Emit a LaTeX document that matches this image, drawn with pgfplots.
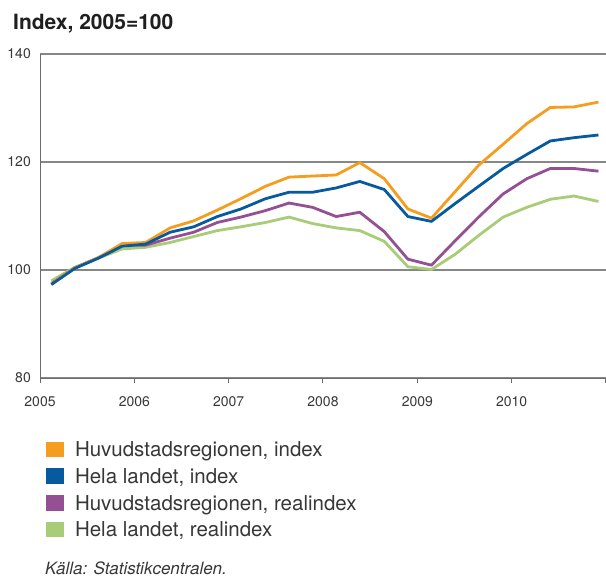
\documentclass[border=0pt]{standalone}
\usepackage{pgfplots}
\pgfplotsset{compat=1.18}
\usepackage{pgfplotstable}
\usepackage{fontspec}
\setmainfont{TeX Gyre Heros}
\definecolor{corange}{RGB}{245,157,31}
\definecolor{cblue}{RGB}{8,90,158}
\definecolor{cpurple}{RGB}{149,80,148}
\definecolor{cgreen}{RGB}{168,204,120}
\definecolor{ctext}{RGB}{55,55,55}
\definecolor{cgrid}{RGB}{135,135,135}
\pgfplotstableread{
x        o      b      p      g
2005.12  97.4   97.3   97.5   98.0
2005.37  100.4  100.3  100.4  100.5
2005.62  102.3  102.2  102.3  102.2
2005.87  104.9  104.4  104.6  103.9
2006.12  105.1  104.8  104.6  104.2
2006.38  107.8  107.0  105.9  105.1
2006.63  109.1  108.0  107.0  106.2
2006.88  111.1  109.9  108.8  107.3
2007.13  113.2  111.3  109.8  108.0
2007.39  115.5  113.2  111.0  108.8
2007.64  117.2  114.4  112.4  109.8
2007.89  117.4  114.4  111.6  108.6
2008.14  117.6  115.2  109.9  107.8
2008.39  119.9  116.4  110.7  107.3
2008.65  116.9  114.9  107.1  105.3
2008.90  111.3  109.9  102.0  100.6
2009.15  109.6  109.0  100.9  100.1
2009.40  114.5  112.3  105.4  102.9
2009.65  119.4  115.5  109.8  106.4
2009.91  123.3  118.8  114.1  109.8
2010.16  127.1  121.4  116.9  111.6
2010.41  130.1  123.9  118.8  113.1
2010.66  130.2  124.5  118.8  113.7
2010.92  131.1  125.0  118.3  112.7
}\datatable
\begin{document}
\begin{tikzpicture}
\useasboundingbox (0,0) rectangle (606bp,-578bp);
\node[anchor=base west, inner sep=0pt, font=\fontsize{21bp}{25bp}\selectfont\bfseries, text=black!88] at (13bp,-29.3bp) {Index, 2005=100};
\begin{axis}[
  at={(40bp,-54bp)}, anchor=north west,
  scale only axis, width=566bp, height=324bp,
  xmin=2005, xmax=2011, ymin=80, ymax=140,
  axis x line*=bottom, axis y line*=left,
  axis line style={draw=cgrid!80!black, line width=1bp},
  xtick={2005,2006,...,2011},
  xticklabels={2005,2006,2007,2008,2009,2010,{}},
  ytick={80,100,120,140},
  ymajorgrids, grid style={draw=cgrid, line width=1.3bp},
  xtick align=outside,
  major tick length=5bp,
  ytick style={draw=none},
  xtick style={draw=cgrid!80!black, line width=1bp},
  /pgf/number format/assume math mode=true,
  yticklabel style={font=\fontsize{14bp}{16bp}\selectfont, text=ctext, anchor=east, inner sep=0pt, xshift=-9bp},
  xticklabel style={font=\fontsize{14bp}{16bp}\selectfont, text=ctext, anchor=north, inner sep=0pt, text height=10bp, yshift=-13.7bp},
  legend style={at={(axis description cs:0.0106,-0.1796)}, anchor=north west,
    draw=none, fill=none, inner sep=0pt, outer sep=0pt, row sep=0pt,
    font=\fontsize{20.5bp}{24bp}\selectfont,
    nodes={inner sep=0pt, text height=14.8bp, text depth=0pt, minimum height=26.67bp, text=ctext},
    /tikz/every odd column/.append style={column sep=11.3bp}},
  legend cell align=left,
  legend image code/.code={\fill[#1] (0bp,-7.8bp) rectangle (17.7bp,7.8bp);},
  clip=false,
]
\addplot[draw=cgreen, line width=2.8bp, line join=round, forget plot] table[x=x,y=g] {\datatable};
\addplot[draw=cpurple, line width=2.8bp, line join=round, forget plot] table[x=x,y=p] {\datatable};
\addplot[draw=corange, line width=2.8bp, line join=round, forget plot] table[x=x,y=o] {\datatable};
\addplot[draw=cblue, line width=2.8bp, line join=round, forget plot] table[x=x,y=b] {\datatable};
\addlegendimage{draw=none, fill=corange}
\addlegendentry{Huvudstadsregionen, index}
\addlegendimage{draw=none, fill=cblue}
\addlegendentry{Hela landet, index}
\addlegendimage{draw=none, fill=cpurple}
\addlegendentry{Huvudstadsregionen, realindex}
\addlegendimage{draw=none, fill=cgreen}
\addlegendentry{Hela landet, realindex}
\end{axis}
\node[anchor=base west, inner sep=0pt, font=\fontsize{17bp}{20bp}\selectfont\itshape, text=ctext] at (45bp,-574bp) {Källa: Statistikcentralen.};
\end{tikzpicture}
\end{document}
